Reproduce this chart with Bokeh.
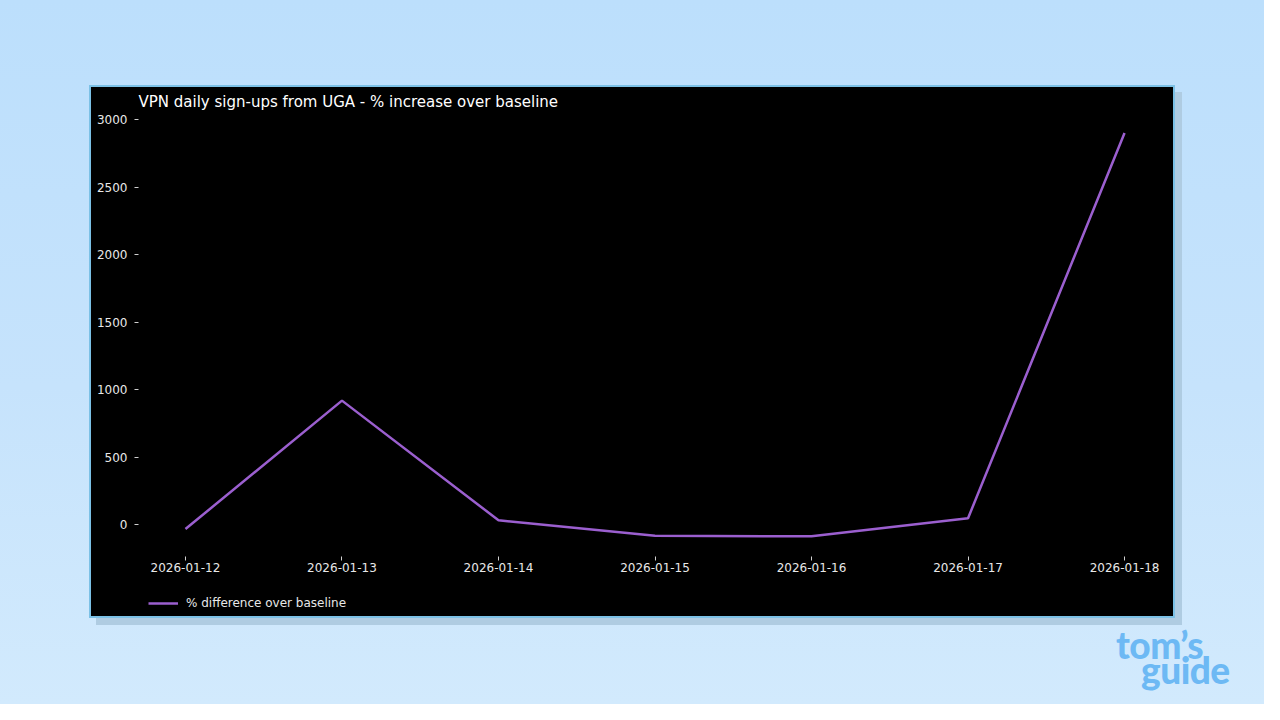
import pandas as pd
from bokeh.plotting import figure
from bokeh.models import Range1d, FixedTicker, DatetimeTickFormatter, Legend, LegendItem, Div
from bokeh.layouts import column
from bokeh.embed import file_html
from bokeh.resources import INLINE

# ---- data ----
dates = ["2026-01-12", "2026-01-13", "2026-01-14", "2026-01-15",
         "2026-01-16", "2026-01-17", "2026-01-18"]
pct_diff = [-30, 920, 35, -80, -84, 50, 2900]
y_ticks = [0, 500, 1000, 1500, 2000, 2500, 3000]
title_text = "VPN daily sign-ups from UGA - % increase over baseline"
series_label = "% difference over baseline"

x = pd.to_datetime(dates)
day = pd.Timedelta(days=1)
FONT = "DejaVu Sans"

# frame extends below the x axis so the legend can sit inside it
p = figure(width=1086, height=533, x_axis_type="datetime",
           x_range=Range1d(x[0] - 0.3 * day, x[-1] + 0.3 * day),
           y_range=Range1d(-677, 3044),
           toolbar_location=None, output_backend="svg",
           min_border_left=47, min_border_right=6,
           min_border_top=26, min_border_bottom=4,
           background_fill_color="black", border_fill_color="black",
           outline_line_color=None, outline_line_width=0, outline_line_alpha=0)

r = p.line(x, pct_diff, line_color="#9b5fcf", line_width=2.5)

p.title.text = title_text
p.title.text_color = "white"
p.title.text_font = FONT
p.title.text_font_size = "15px"
p.title.text_font_style = "normal"
p.title.align = "left"
p.title.standoff = 6

p.xgrid.grid_line_color = None
p.ygrid.grid_line_color = None

tick_ms = [t.value / 1e6 for t in x]
p.xaxis.ticker = FixedTicker(ticks=tick_ms)
fmt = "%Y-%m-%d"
p.xaxis.formatter = DatetimeTickFormatter(days=fmt, hours=fmt, minutes=fmt, months=fmt,
                                          years=fmt, hourmin=fmt, minsec=fmt, seconds=fmt,
                                          milliseconds=fmt, microseconds=fmt)
p.xaxis.fixed_location = -233
p.yaxis.ticker = FixedTicker(ticks=y_ticks)

for ax in (p.xaxis[0], p.yaxis[0]):
    ax.axis_line_color = None
    ax.major_tick_line_color = "#d0d0d0"
    ax.major_tick_in = 0
    ax.major_tick_out = 4
    ax.minor_tick_line_color = None
    ax.major_label_text_color = "#e8e8e8"
    ax.major_label_text_font = FONT
    ax.major_label_text_font_size = "12px"
p.xaxis.major_label_standoff = 3
p.yaxis.major_label_standoff = 7

legend = Legend(items=[LegendItem(label=series_label, renderers=[r])],
                location=(8, 1), orientation="horizontal",
                background_fill_alpha=0, border_line_alpha=0,
                label_text_color="#e8e8e8", label_text_font=FONT,
                label_text_font_size="12px", glyph_width=30, glyph_height=20,
                label_standoff=8, margin=0, padding=2)
p.add_layout(legend)

p.margin = (85, 0, 0, 89)
p.styles = {"border": "2px solid #7cc1e6",
            "background-color": "black",
            "box-shadow": "7px 7px 0 #afcce2"}

logo = Div(text='<div style="font-family:Lato;font-weight:900;font-size:37px;'
                'line-height:25px;color:#6db9f4;letter-spacing:-0.5px;white-space:nowrap">'
                'tom\u2019s<br><span style="padding-left:25px">guide</span></div>',
           width=140, height=62, margin=(14, 0, 0, 1116))

page = column(p, logo, width=1264, height=704, sizing_mode="fixed",
              styles={"background": "linear-gradient(180deg, #bcdffc 0%, #c6e3fc 55%, #d2eafd 100%)"})

open("out.html", "w").write(file_html(page, INLINE))
